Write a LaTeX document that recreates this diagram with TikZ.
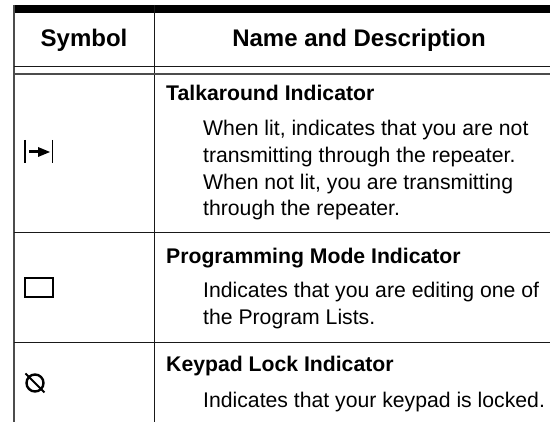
\documentclass[tikz,border=0pt]{standalone}
\usepackage{fontspec}
\setmainfont{Liberation Sans}
\tikzset{
  head/.style={font=\fontsize{24}{28}\selectfont\bfseries,anchor=base},
  title/.style={font=\fontsize{21.2}{24}\selectfont\bfseries,anchor=base west,inner sep=0},
  body/.style={font=\fontsize{21.2}{24}\selectfont,anchor=base west,inner sep=0},
  grid/.style={line width=1pt,black!90},
  frame/.style={line width=1.7pt,black!70}
}
\begin{document}
\begin{tikzpicture}[x=1pt,y=-1pt,line cap=butt]
\useasboundingbox (0,0) rectangle (550,422);
\fill[white] (0,0) rectangle (550,422);
% rules
\fill[black] (13.5,5) rectangle (550,13);
\draw[frame] (14,5) -- (14,422);
\draw[grid] (154.5,5) -- (154.5,422);
\draw[grid] (14,67) -- (550,67);
\draw[frame] (14,74) -- (550,74);
\draw[grid] (14,233) -- (550,233);
\draw[grid] (14,342.5) -- (550,342.5);
% header
\node[head] (h1) at (84,47) {Symbol};
\node[head] (h2) at (359,47) {Name and Description};
% row 1
\node[title] (t1) at (166,101) {Talkaround Indicator};
\node[body] (b11) at (203,136) {When lit, indicates that you are not};
\node[body] (b12) at (203,163) {transmitting through the repeater.};
\node[body] (b13) at (203,190) {When not lit, you are transmitting};
\node[body] (b14) at (203,216) {through the repeater.};
% row 2
\node[title] (t2) at (166,264) {Programming Mode Indicator};
\node[body] (b21) at (203,298) {Indicates that you are editing one of};
\node[body] (b22) at (203,325) {the Program Lists.};
% row 3
\node[title] (t3) at (166,372) {Keypad Lock Indicator};
\node[body] (b31) at (203,408) {Indicates that your keypad is locked.};
% symbols
\draw[line width=1.8pt] (25,140) -- (25,163);
\draw[line width=1.8pt] (52.5,140) -- (52.5,163);
\draw[line width=3pt] (29,152) -- (42,152);
\fill (50,152) -- (38,147) -- (38,157) -- cycle;
\draw[line width=2.8pt] (25,278) rectangle (53,297);
\draw[line width=2.4pt] (35,383) circle (8.5);
\draw[line width=1.8pt] (25.5,373.5) -- (44.5,392.5);
\end{tikzpicture}
\end{document}
